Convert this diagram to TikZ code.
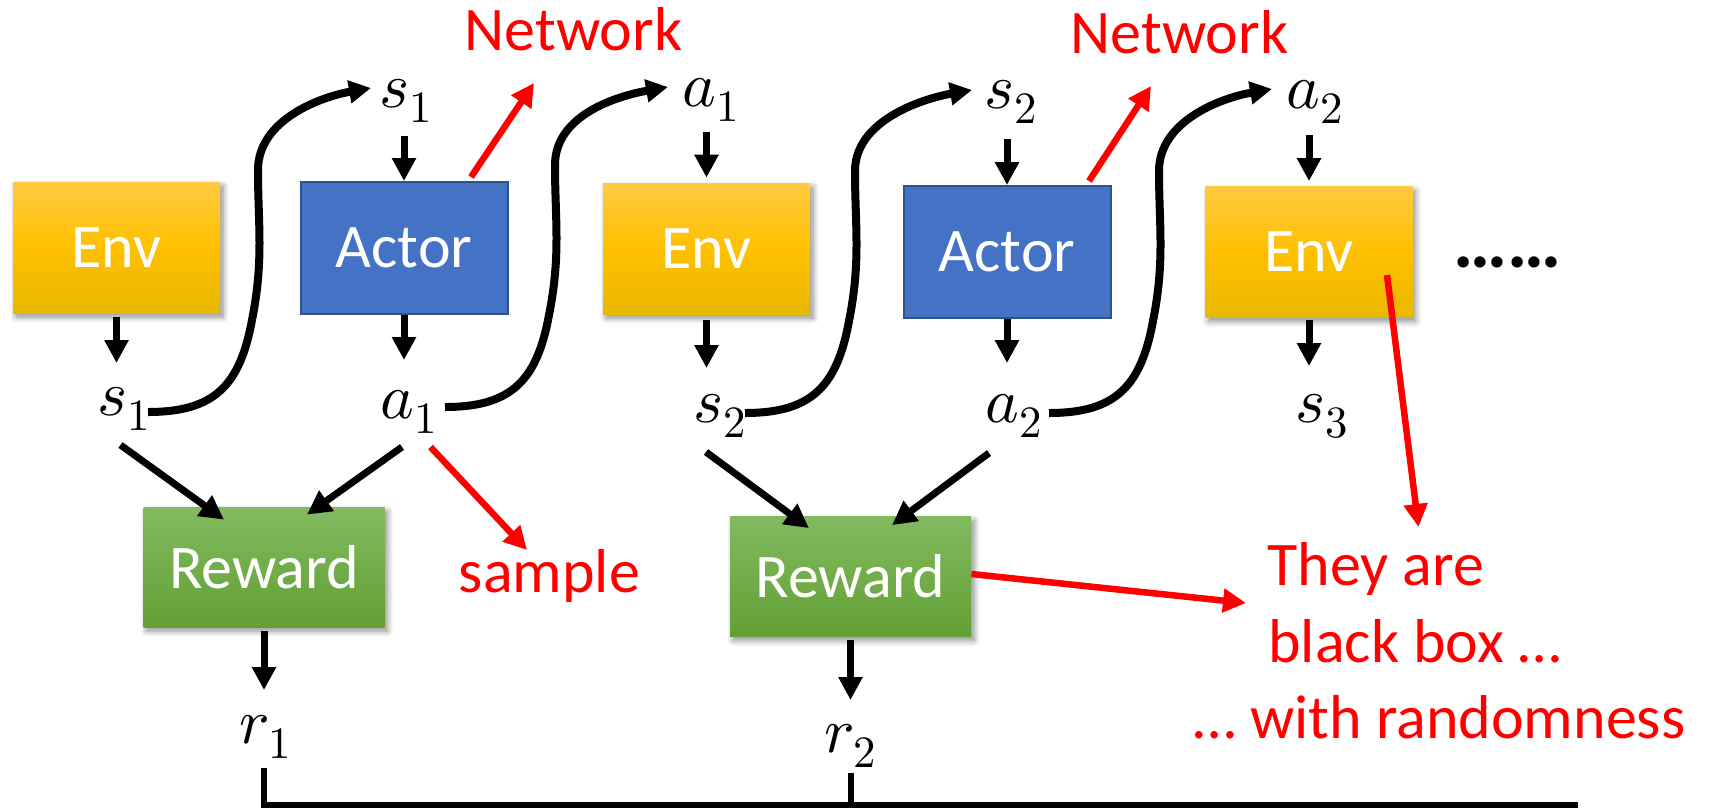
\documentclass[tikz,border=0pt]{standalone}
\usepackage{fontspec}
\usepackage{unicode-math}
\setmainfont{Carlito}
\setmathfont{Latin Modern Math}
\usetikzlibrary{arrows.meta,calc,shadows,shadows.blur}

\definecolor{envtop}{RGB}{255,202,66}
\definecolor{envmid}{RGB}{255,192,0}
\definecolor{envbot}{RGB}{232,184,0}
\definecolor{actorfill}{RGB}{68,114,196}
\definecolor{actorline}{RGB}{47,82,143}
\definecolor{rewtop}{RGB}{130,186,96}
\definecolor{rewbot}{RGB}{98,160,52}
\definecolor{notered}{RGB}{255,0,0}

\tikzset{
  softshadow/.style={blur shadow={shadow xshift=1.5pt,shadow yshift=-2pt,
      shadow blur radius=3pt,shadow blur steps=8,shadow opacity=45}},
  boxlabel/.style={text=white,font=\fontsize{31}{37}\selectfont,inner sep=0pt},
  envbox/.style={boxlabel,minimum width=103.5pt,minimum height=65.5pt,
      top color=envtop,bottom color=envbot,middle color=envmid,softshadow},
  actorbox/.style={boxlabel,minimum width=103.5pt,minimum height=66pt,
      fill=actorfill,draw=actorline,line width=1pt},
  rewardbox/.style={boxlabel,minimum width=120.5pt,minimum height=60pt,
      top color=rewtop,bottom color=rewbot,softshadow},
  var/.style={font=\fontsize{32}{38}\selectfont,inner sep=0pt,anchor=base},
  remark/.style={text=notered,font=\fontsize{31}{37}\selectfont,inner sep=0pt},
  flow/.style={line width=3.5pt,-{Triangle[length=11.5pt,width=11.5pt]}},
  feed/.style={line width=3.5pt,-{Triangle[length=12pt,width=12pt]}},
  wave/.style={line width=4pt,-{Triangle[length=11pt,width=11pt]}},
  pointer/.style={draw=notered,line width=3.25pt,-{Triangle[length=11.5pt,width=11.5pt]}},
  bracket/.style={line width=3pt},
}

% S-shaped connector from one variable to the next input
\newcommand\wavelink[2]{%
  \draw[wave] #1 .. controls +(67,0) and +(-12,65) .. ++(104,-92)
    .. controls +(12,-60) and +(0,55) .. ++(6,-150)
    .. controls +(0,-50) and +(-51,9) .. #2;}

\begin{document}
\begin{tikzpicture}[x=0.5pt,y=-0.5pt]
\useasboundingbox (0,0) rectangle (1712,810);

% boxes
\node[envbox]    (env1)    at (116.5,247.5) {Env};
\node[actorbox]  (actor1)  at (404,248)     {Actor};
\node[envbox]    (env2)    at (706.5,248.5) {Env};
\node[actorbox]  (actor2)  at (1007,252)    {Actor};
\node[envbox]    (env3)    at (1309,252)    {Env};
\node[rewardbox] (reward1) at (264,567)     {Reward};
\node[rewardbox] (reward2) at (850.5,576.5) {Reward};

% variables
\node[var] (s1b) at (124,415)    {$s_1$};
\node[var] (s1t) at (406,107)    {$s_1$};
\node[var] (a1b) at (409.5,418)  {$a_1$};
\node[var] (a1t) at (711,106)    {$a_1$};
\node[var] (s2b) at (720,422)    {$s_2$};
\node[var] (s2t) at (1011,108)   {$s_2$};
\node[var] (a2b) at (1014.5,422) {$a_2$};
\node[var] (a2t) at (1315,108)   {$a_2$};
\node[var] (s3)  at (1322,422)   {$s_3$};
\node[var] (r1)  at (265.5,743)  {$r_1$};
\node[var] (r2)  at (851,752)    {$r_2$};

% annotations
\node[remark,anchor=base] (net1) at (573.5,50) {Network};
\node[remark,anchor=base] (net2) at (1179.5,53) {Network};
\node[remark,anchor=base] (sample) at (549.5,592) {sample};
\node[remark,anchor=base west] (they) at (1267,585) {They are};
\node[remark,anchor=base west] (black) at (1268,662) {black box …};
\node[remark,anchor=base west] (rand) at (1193,738) {… with randomness};
\node[font=\fontsize{38}{44}\selectfont\bfseries,inner sep=0pt,anchor=base] (more) at (1508,267) {……};

% vertical steps
\draw[flow] ($(env1.south)+(0,4)$) -- ($(env1.south |- s1b.base)+(0,-52)$);
\draw[flow] ($(actor1.north |- s1t.base)+(0,29)$) -- (actor1.north);
\draw[flow] (actor1.south) -- ($(actor1.south |- a1b.base)+(0,-58)$);
\draw[flow] ($(env2.north |- a1t.base)+(0,26)$) -- ($(env2.north)+(0,-5)$);
\draw[flow] ($(env2.south)+(0,6)$) -- ($(env2.south |- s2b.base)+(0,-54)$);
\draw[flow] ($(actor2.north |- s2t.base)+(0,31)$) -- (actor2.north);
\draw[flow] (actor2.south) -- ($(actor2.south |- a2b.base)+(0,-59)$);
\draw[flow] ($(env3.north |- a2t.base)+(0,27)$) -- ($(env3.north)+(0,-5)$);
\draw[flow] ($(env3.south)+(0,2)$) -- ($(env3.south |- s3.base)+(0,-56)$);
\draw[flow] ($(reward1.south)+(0,4)$) -- ($(reward1.south |- r1.base)+(0,-53)$);
\draw[flow] ($(reward2.south)+(0,3)$) -- ($(reward2.south |- r2.base)+(0,-52)$);

% S-shaped links
\wavelink{($(s1b.base)+(24,-3)$)}{($(s1t.base)+(-35,-19)$)}
\wavelink{($(a1b.base)+(35.5,-11)$)}{($(a1t.base)+(-43,-19)$)}
\wavelink{($(s2b.base)+(25,-9)$)}{($(s2t.base)+(-39,-18)$)}
\wavelink{($(a2b.base)+(34.5,-9)$)}{($(a2t.base)+(-43,-19)$)}

% inputs of the reward boxes
\draw[feed] ($(s1b.base)+(-3.5,30)$) -- ($(reward1.north)+(-40,13)$);
\draw[feed] ($(a1b.base)+(-7.5,29)$) -- ($(reward1.north)+(43,8)$);
\draw[feed] ($(s2b.base)+(-14,30)$) -- ($(reward2.north)+(-41.5,12)$);
\draw[feed] ($(a2b.base)+(-25.5,31)$) -- ($(reward2.north)+(41.5,9)$);

% red pointers
\draw[pointer] ($(actor1.north)+(67,-4)$) -- ($(net1.base)+(-39.5,33)$);
\draw[pointer] ($(actor2.north)+(82,-4)$) -- ($(net2.base)+(-28.5,33)$);
\draw[pointer] ($(a1b.base)+(21,29)$) -- ($(sample.base)+(-22.5,-42)$);
\draw[pointer] ($(reward2.east)+(0,-2.5)$) -- ($(they.base west)+(-21,18)$);
\draw[pointer] ($(env3.center)+(78,23)$) -- ($(they.base west)+(151.5,-58)$);

% total over the rewards
\coordinate (bend) at (1578,805);
\draw[bracket] ($(reward1.south |- r1.base)+(0,25)$) |- (bend);
\draw[bracket] ($(reward2.south |- r2.base)+(0,21)$) -- (reward2.south |- bend);
\end{tikzpicture}
\end{document}
